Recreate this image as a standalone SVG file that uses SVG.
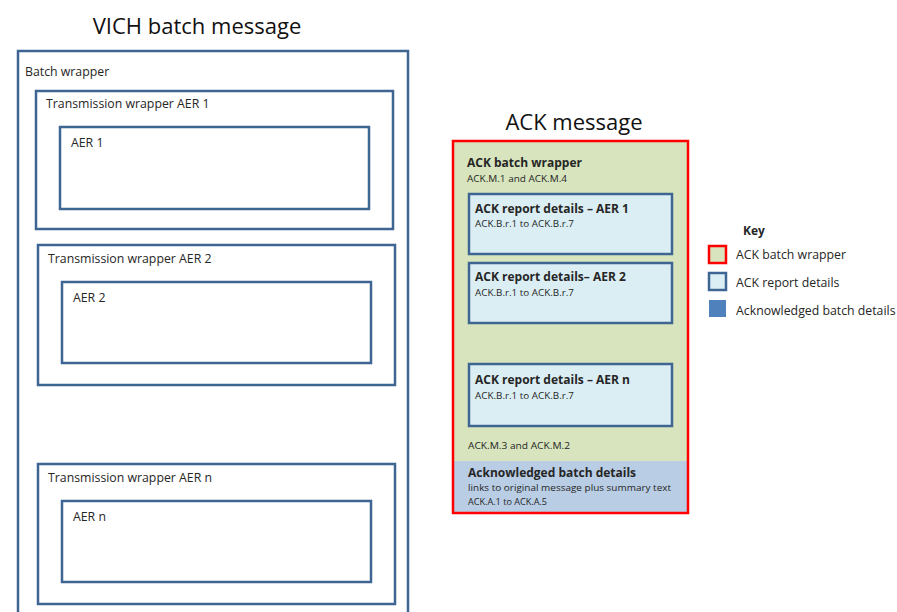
<svg xmlns="http://www.w3.org/2000/svg" width="897" height="612" viewBox="0 0 897 612">
<style>
  text { font-family: "Open Sans", "Liberation Sans", sans-serif; fill: #262626; }
  .title { font-size: 22px; fill: #111; }
  .lbl { font-size: 12.3px; }
  .b { font-weight: bold; font-size: 12px; }
  .s { font-size: 9.8px; }
  .box { fill: #fff; stroke: #3f6593; stroke-width: 2.5; }
  .rep { fill: #dbeef4; stroke: #3f6593; stroke-width: 2.5; }
</style>
<rect width="897" height="612" fill="#fff"/>

<text class="title" x="197" y="34" text-anchor="middle">VICH batch message</text>

<g id="batch-wrapper">
  <path d="M18,620 V51 H408 V620" fill="#fff" stroke="#3f6593" stroke-width="2.5"/>
  <text class="lbl" x="25" y="76">Batch wrapper</text>
</g>
<g id="tw1">
  <rect class="box" x="36" y="91" width="357" height="138"/>
  <text class="lbl" x="46" y="108">Transmission wrapper AER 1</text>
</g>
<g id="aer1">
  <rect class="box" x="60" y="127" width="309" height="82"/>
  <text class="lbl" x="71" y="147">AER 1</text>
</g>
<g id="tw2">
  <rect class="box" x="38" y="245" width="357" height="140"/>
  <text class="lbl" x="48" y="263">Transmission wrapper AER 2</text>
</g>
<g id="aer2">
  <rect class="box" x="62" y="282" width="309" height="81"/>
  <text class="lbl" x="73" y="302">AER 2</text>
</g>
<g id="twn">
  <rect class="box" x="38" y="464" width="357" height="140"/>
  <text class="lbl" x="48" y="482">Transmission wrapper AER n</text>
</g>
<g id="aern">
  <rect class="box" x="62" y="501" width="309" height="81"/>
  <text class="lbl" x="73" y="521">AER n</text>
</g>

<text class="title" x="574" y="130" text-anchor="middle">ACK message</text>

<g id="ack-batch-wrapper">
  <rect x="453" y="141" width="235" height="372" fill="#d7e4bd"/>
  <rect x="454" y="461" width="233" height="51" fill="#b9cde5"/>
  <rect x="453" y="141" width="235" height="372" fill="none" stroke="#ff0000" stroke-width="2.5"/>
  <text class="b" x="467" y="167">ACK batch wrapper</text>
  <text class="s" x="467" y="182" textLength="100" lengthAdjust="spacingAndGlyphs">ACK.M.1 and ACK.M.4</text>
  <text class="s" x="468" y="449" textLength="102" lengthAdjust="spacingAndGlyphs">ACK.M.3 and ACK.M.2</text>
</g>
<g id="ack-report-1">
  <rect class="rep" x="469" y="194" width="203" height="60"/>
  <text class="b" x="475" y="213">ACK report details – AER 1</text>
  <text class="s" x="475" y="227" textLength="99" lengthAdjust="spacingAndGlyphs">ACK.B.r.1 to ACK.B.r.7</text>
</g>
<g id="ack-report-2">
  <rect class="rep" x="469" y="263" width="203" height="60"/>
  <text class="b" x="475" y="281">ACK report details– AER 2</text>
  <text class="s" x="475" y="296" textLength="99" lengthAdjust="spacingAndGlyphs">ACK.B.r.1 to ACK.B.r.7</text>
</g>
<g id="ack-report-n">
  <rect class="rep" x="469" y="364" width="203" height="62"/>
  <text class="b" x="475" y="384">ACK report details – AER n</text>
  <text class="s" x="475" y="399" textLength="99" lengthAdjust="spacingAndGlyphs">ACK.B.r.1 to ACK.B.r.7</text>
</g>
<g id="ack-batch-details">
  <text class="b" x="468" y="477">Acknowledged batch details</text>
  <text class="s" x="468" y="491" textLength="203" lengthAdjust="spacingAndGlyphs">links to original message plus summary text</text>
  <text class="s" x="468" y="505" textLength="79" lengthAdjust="spacingAndGlyphs">ACK.A.1 to ACK.A.5</text>
</g>

<g id="key">
  <text class="b" x="743" y="235">Key</text>
  <rect x="709" y="246" width="17" height="17" fill="#d7e4bd" stroke="#ff0000" stroke-width="2.5"/>
  <text class="lbl" x="736" y="259">ACK batch wrapper</text>
  <rect x="709" y="273" width="17" height="17" fill="#dbeef4" stroke="#3f6593" stroke-width="2.5"/>
  <text class="lbl" x="736" y="287">ACK report details</text>
  <rect x="709" y="300" width="17" height="17" fill="#4f81bd"/>
  <text class="lbl" x="736" y="315">Acknowledged batch details</text>
</g>

<g id="connectors"></g>
</svg>
